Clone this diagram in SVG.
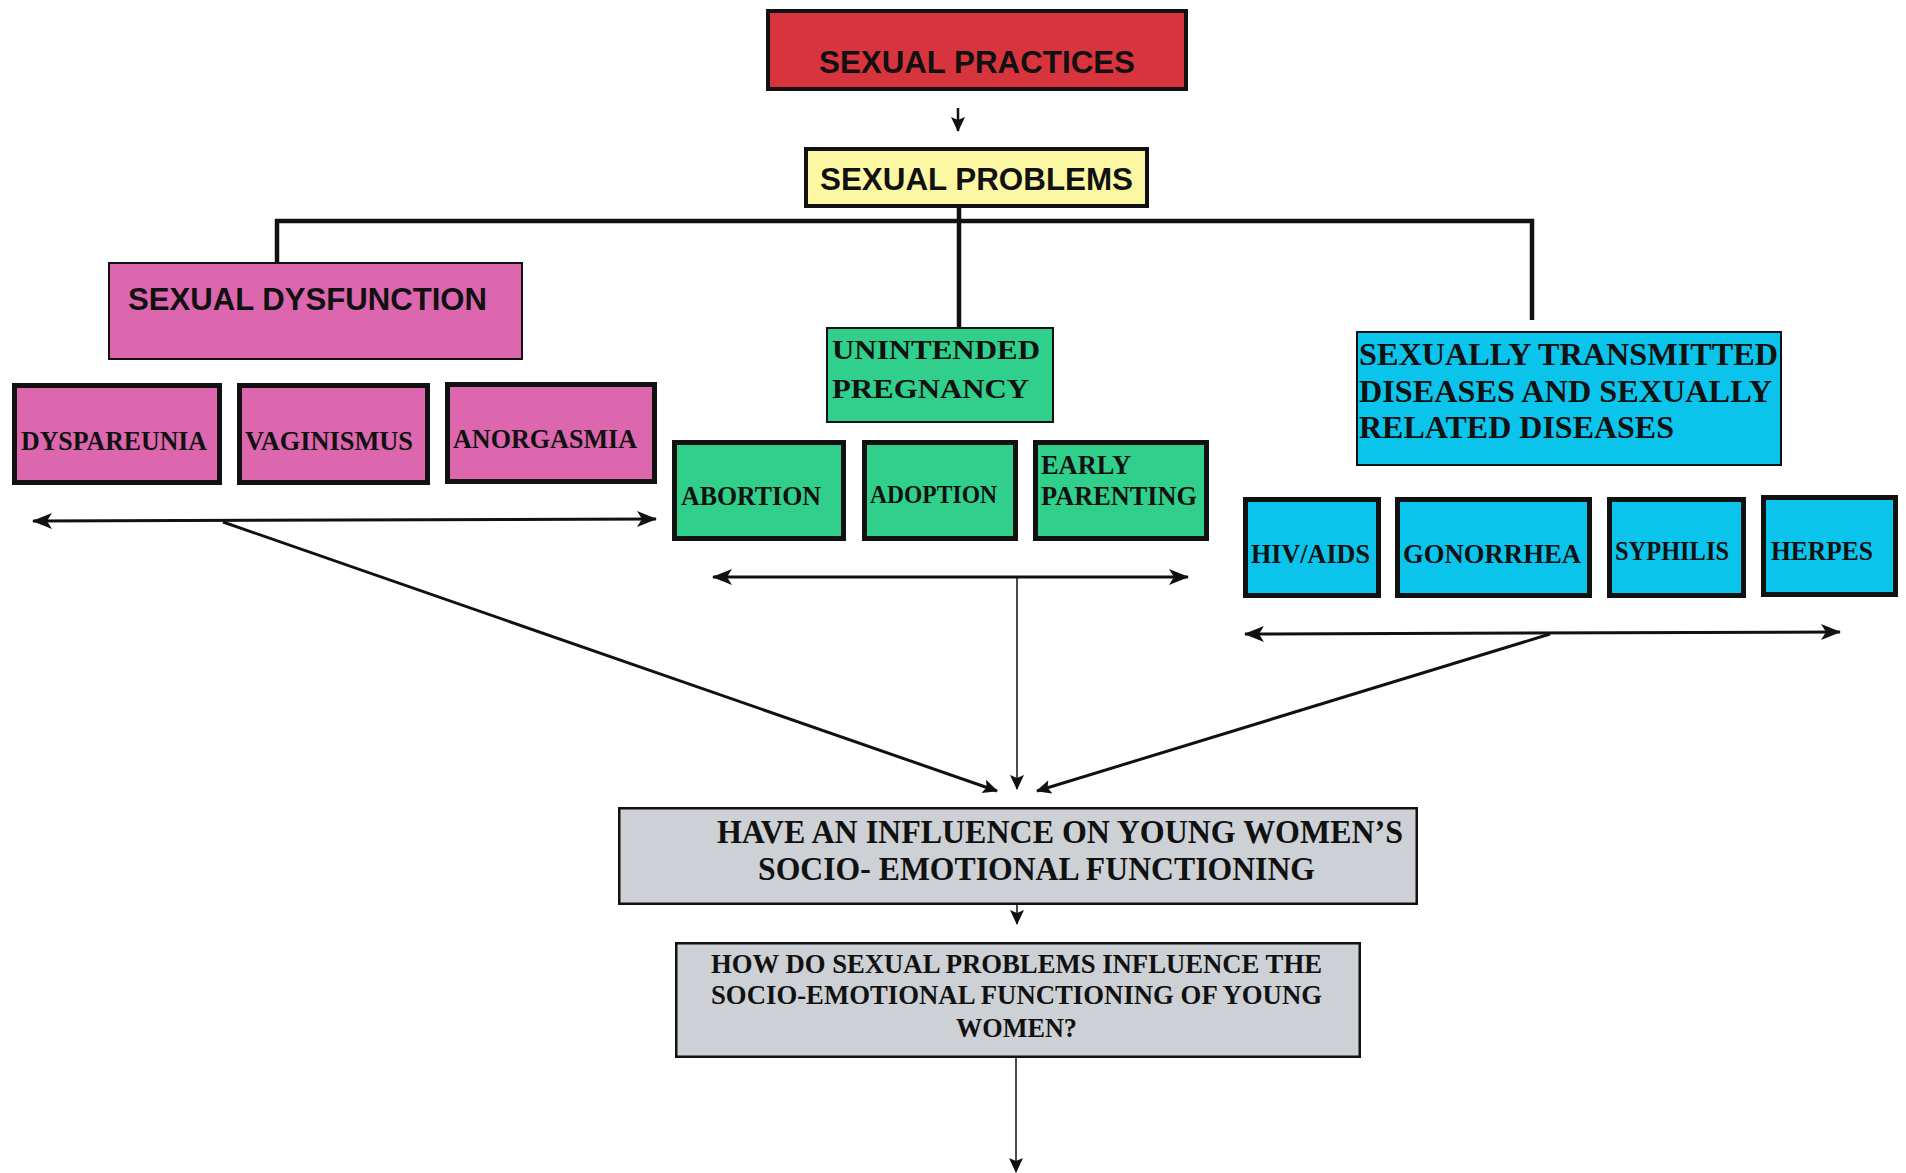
<svg xmlns="http://www.w3.org/2000/svg" width="1906" height="1173" viewBox="0 0 1906 1173">
  <style>
    .box { stroke: #111; }
    .thick { stroke-width: 5; }
    .thin { stroke-width: 2; }
    .sans { font-family: "Liberation Sans", Arial, sans-serif; font-weight: bold; fill: #111; }
    .serif { font-family: "Liberation Serif", "Times New Roman", serif; font-weight: bold; fill: #111; }
    .red { fill: #d8343d; }
    .yellow { fill: #fbf7a3; }
    .pink { fill: #dc67ae; }
    .green { fill: #30cf8b; }
    .blue { fill: #0bc4ec; }
    .grey { fill: #cdd0d4; }
    .wire { fill: none; stroke: #111; }
  </style>
  <defs>
    <marker id="head" markerUnits="userSpaceOnUse" markerWidth="20" markerHeight="18" viewBox="0 0 20 18" refX="19" refY="9" orient="auto-start-reverse">
      <path d="M0,1 L20,9 L0,17 L5,9 Z" fill="#111"/>
    </marker>
    <marker id="tip" markerUnits="userSpaceOnUse" markerWidth="15" markerHeight="15" viewBox="0 0 15 15" refX="14" refY="7.5" orient="auto">
      <path d="M0,0.5 L15,7.5 L0,14.5 L3,7.5 Z" fill="#111"/>
    </marker>
  </defs>
  <rect width="1906" height="1173" fill="#ffffff"/>

  <!-- connectors -->
  <g id="connectors">
    <line class="wire" x1="958" y1="108" x2="958" y2="131" stroke-width="2.5" marker-end="url(#tip)"/>
    <polyline class="wire" points="277,262 277,221 1532,221 1532,320" stroke-width="4.5"/>
    <line class="wire" x1="959" y1="206" x2="959" y2="327" stroke-width="4.5"/>

    <line class="wire" x1="33" y1="521" x2="656" y2="519" stroke-width="3" marker-start="url(#head)" marker-end="url(#head)"/>
    <line class="wire" x1="713" y1="577" x2="1188" y2="577" stroke-width="3" marker-start="url(#head)" marker-end="url(#head)"/>
    <line class="wire" x1="1245" y1="634" x2="1840" y2="632" stroke-width="3" marker-start="url(#head)" marker-end="url(#head)"/>

    <line class="wire" x1="223" y1="522" x2="997" y2="791" stroke-width="3" marker-end="url(#tip)"/>
    <line class="wire" x1="1017" y1="577" x2="1017" y2="789" stroke-width="1.5" marker-end="url(#tip)"/>
    <line class="wire" x1="1550" y1="634" x2="1037" y2="791" stroke-width="3" marker-end="url(#tip)"/>

    <line class="wire" x1="1017" y1="905" x2="1017" y2="924" stroke-width="1.5" marker-end="url(#tip)"/>
    <line class="wire" x1="1016" y1="1058" x2="1016" y2="1172" stroke-width="1.5" marker-end="url(#tip)"/>
  </g>

  <!-- top of the tree -->
  <g id="sexual-practices">
    <rect class="box red" x="768" y="11" width="418" height="78" stroke-width="4"/>
    <text class="sans" x="819" y="73" font-size="31" textLength="316" lengthAdjust="spacingAndGlyphs">SEXUAL PRACTICES</text>
  </g>
  <g id="sexual-problems">
    <rect class="box yellow" x="806" y="149" width="341" height="57" stroke-width="4"/>
    <text class="sans" x="820" y="190" font-size="31" textLength="313" lengthAdjust="spacingAndGlyphs">SEXUAL PROBLEMS</text>
  </g>

  <!-- sexual dysfunction branch -->
  <g id="sexual-dysfunction">
    <rect class="box pink thin" x="109" y="263" width="413" height="96"/>
    <text class="sans" x="128" y="310" font-size="32" textLength="359" lengthAdjust="spacingAndGlyphs">SEXUAL DYSFUNCTION</text>
  </g>
  <g id="dyspareunia">
    <rect class="box pink thick" x="14.5" y="385.5" width="205" height="97"/>
    <text class="serif" x="21" y="450" font-size="27" textLength="186" lengthAdjust="spacingAndGlyphs">DYSPAREUNIA</text>
  </g>
  <g id="vaginismus">
    <rect class="box pink thick" x="239.5" y="385.5" width="188" height="97"/>
    <text class="serif" x="245" y="450" font-size="27" textLength="168" lengthAdjust="spacingAndGlyphs">VAGINISMUS</text>
  </g>
  <g id="anorgasmia">
    <rect class="box pink thick" x="447.5" y="384.5" width="207" height="97"/>
    <text class="serif" x="453" y="448" font-size="27" textLength="184" lengthAdjust="spacingAndGlyphs">ANORGASMIA</text>
  </g>

  <!-- unintended pregnancy branch -->
  <g id="unintended-pregnancy">
    <rect class="box green thin" x="827" y="328" width="226" height="94"/>
    <text class="serif" x="832" y="359" font-size="28" textLength="208" lengthAdjust="spacingAndGlyphs">UNINTENDED</text>
    <text class="serif" x="832" y="398" font-size="28" textLength="197" lengthAdjust="spacingAndGlyphs">PREGNANCY</text>
  </g>
  <g id="abortion">
    <rect class="box green thick" x="674.5" y="442.5" width="169" height="96"/>
    <text class="serif" x="681" y="505" font-size="27" textLength="140" lengthAdjust="spacingAndGlyphs">ABORTION</text>
  </g>
  <g id="adoption">
    <rect class="box green thick" x="864.5" y="442.5" width="151" height="96"/>
    <text class="serif" x="870" y="503" font-size="25" textLength="127" lengthAdjust="spacingAndGlyphs">ADOPTION</text>
  </g>
  <g id="early-parenting">
    <rect class="box green thick" x="1035.5" y="442.5" width="171" height="96"/>
    <text class="serif" x="1041" y="474" font-size="27" textLength="90" lengthAdjust="spacingAndGlyphs">EARLY</text>
    <text class="serif" x="1041" y="505" font-size="27" textLength="156" lengthAdjust="spacingAndGlyphs">PARENTING</text>
  </g>

  <!-- transmitted diseases branch -->
  <g id="sti">
    <rect class="box blue thin" x="1357" y="332" width="424" height="133"/>
    <text class="serif" x="1359" y="365" font-size="31" textLength="419" lengthAdjust="spacingAndGlyphs">SEXUALLY TRANSMITTED</text>
    <text class="serif" x="1359" y="402" font-size="31" textLength="413" lengthAdjust="spacingAndGlyphs">DISEASES AND SEXUALLY</text>
    <text class="serif" x="1359" y="438" font-size="31" textLength="315" lengthAdjust="spacingAndGlyphs">RELATED DISEASES</text>
  </g>
  <g id="hiv-aids">
    <rect class="box blue thick" x="1245.5" y="499.5" width="133" height="96"/>
    <text class="serif" x="1251" y="563" font-size="27" textLength="119" lengthAdjust="spacingAndGlyphs">HIV/AIDS</text>
  </g>
  <g id="gonorrhea">
    <rect class="box blue thick" x="1397.5" y="499.5" width="192" height="96"/>
    <text class="serif" x="1403" y="563" font-size="27" textLength="178" lengthAdjust="spacingAndGlyphs">GONORRHEA</text>
  </g>
  <g id="syphilis">
    <rect class="box blue thick" x="1609.5" y="499.5" width="134" height="96"/>
    <text class="serif" x="1615" y="560" font-size="27" textLength="114" lengthAdjust="spacingAndGlyphs">SYPHILIS</text>
  </g>
  <g id="herpes">
    <rect class="box blue thick" x="1763.5" y="497.5" width="132" height="97"/>
    <text class="serif" x="1771" y="560" font-size="27" textLength="102" lengthAdjust="spacingAndGlyphs">HERPES</text>
  </g>

  <!-- outcome -->
  <g id="influence">
    <rect class="box grey" x="619.25" y="808.25" width="797.5" height="95.5" stroke-width="2.5"/>
    <text class="serif" x="717" y="843" font-size="33" textLength="686" lengthAdjust="spacingAndGlyphs">HAVE AN INFLUENCE ON YOUNG WOMEN’S</text>
    <text class="serif" x="758" y="880" font-size="33" textLength="557" lengthAdjust="spacingAndGlyphs">SOCIO- EMOTIONAL FUNCTIONING</text>
  </g>
  <g id="question">
    <rect class="box grey" x="676.25" y="943.25" width="683.5" height="113.5" stroke-width="2.5"/>
    <text class="serif" x="711" y="973" font-size="27" textLength="611" lengthAdjust="spacingAndGlyphs">HOW DO SEXUAL PROBLEMS INFLUENCE THE</text>
    <text class="serif" x="711" y="1004" font-size="27" textLength="611" lengthAdjust="spacingAndGlyphs">SOCIO-EMOTIONAL FUNCTIONING OF YOUNG</text>
    <text class="serif" x="956" y="1037" font-size="27" textLength="121" lengthAdjust="spacingAndGlyphs">WOMEN?</text>
  </g>
</svg>
